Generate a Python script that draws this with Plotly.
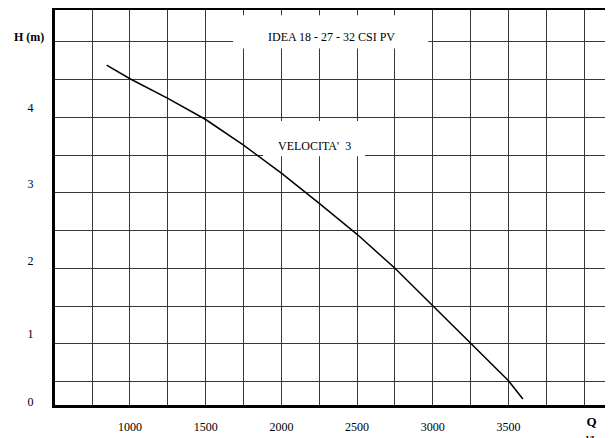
import plotly.graph_objects as go

# Curve data (Q in l/h, H in m)
q_values = [846, 1000, 1250, 1500, 1750, 2000, 2250, 2500, 2750, 3000, 3250, 3500, 3595]
h_values = [4.69, 4.51, 4.25, 3.97, 3.63, 3.26, 2.86, 2.45, 2.0, 1.5, 1.0, 0.51, 0.27]

x_tick_vals = [1000, 1500, 2000, 2500, 3000, 3500]
x_tick_text = ["1000", "1500", "2000", "2500", "3000", "3500"]
y_tick_text = ["0", "1", "2", "3", "4"]
y_tick_pos = [0.23, 1.13, 2.10, 3.12, 4.12]

title_text = "IDEA 18 - 27 - 32 CSI PV"
curve_label = "VELOCITA'  3"

FONT = "Liberation Serif"
GRID = "#383838"

fig = go.Figure()
fig.add_trace(go.Scatter(
    x=q_values, y=h_values, mode="lines",
    line=dict(color="black", width=1.5),
    hoverinfo="skip", showlegend=False,
))

fig.update_layout(
    width=605, height=430,
    margin=dict(l=47, r=0, t=2, b=33),
    paper_bgcolor="white", plot_bgcolor="white",
    font=dict(family=FONT, size=12, color="black"),
    showlegend=False,
    xaxis=dict(
        range=[505, 4190],
        tickmode="array", tickvals=x_tick_vals, ticktext=x_tick_text,
        showgrid=True, gridcolor=GRID, gridwidth=1.4,
        minor=dict(tickmode="linear", tick0=0, dtick=250, showgrid=True,
                   gridcolor=GRID, gridwidth=1.4),
        showline=True, linecolor="black", linewidth=2.5, mirror=True,
        ticks="", ticklabelstandoff=9, zeroline=False,
        tickfont=dict(family=FONT, size=12, color="black"),
    ),
    yaxis=dict(
        range=[0.19, 5.42],
        tickmode="array", tickvals=y_tick_pos, ticktext=y_tick_text,
        showgrid=False,
        minor=dict(tickmode="linear", tick0=0, dtick=0.5, showgrid=True,
                   gridcolor=GRID, gridwidth=1.4),
        showline=True, linecolor="black", linewidth=3, mirror=False,
        ticks="", ticklabelstandoff=16, zeroline=False,
        tickfont=dict(family=FONT, size=12, color="black"),
    ),
)

# white boxes behind the labels
fig.add_shape(type="rect", xref="x", yref="y", x0=1681, x1=2970, y0=4.91, y1=5.35,
              fillcolor="white", line=dict(width=0), layer="between")
fig.add_shape(type="rect", xref="x", yref="y", x0=1879, x1=2553, y0=3.485, y1=3.95,
              fillcolor="white", line=dict(width=0), layer="between")

fig.add_annotation(x=2328, y=5.06, xref="x", yref="y", text=title_text, showarrow=False,
                   font=dict(family=FONT, size=12, color="black"))
fig.add_annotation(x=2216, y=3.62, xref="x", yref="y", text=curve_label, showarrow=False,
                   font=dict(family=FONT, size=12, color="black"))
fig.add_annotation(x=0, y=5.06, xref="paper", yref="y", xshift=-26, xanchor="center",
                   text="<b>H (m)</b>",
                   showarrow=False, font=dict(family=FONT, size=12, color="black"))
fig.add_annotation(x=0.962, y=-0.018, xref="paper", yref="paper", yanchor="top",
                   xanchor="center",
                   text="<b>Q</b><br><b style='font-size:10px'>l/h</b>", showarrow=False,
                   font=dict(family=FONT, size=13, color="black"))

fig.write_html("out.html")
